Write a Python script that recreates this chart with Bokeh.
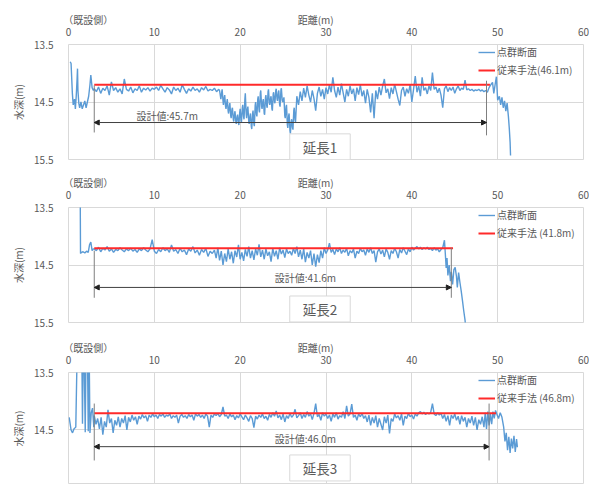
from bokeh.plotting import figure
from bokeh.models import (Range1d, FixedTicker, Label, Arrow, NormalHead, Legend, LegendItem,
                          LinearAxis)
from bokeh.layouts import column
from bokeh.embed import file_html
from bokeh.resources import INLINE

# ---------------- data ----------------
x_ticks = [0, 10, 20, 30, 40, 50, 60]
y_ticks = [13.5, 14.5, 15.5]
panel_names = ["延長1", "延長2", "延長3"]
start_offset = 3.0
design_len = [45.7, 41.6, 46.0]
conv_len = [46.1, 41.8, 46.8]
conv_depth = [14.20, 14.21, 14.21]
conv_labels = ["従来手法(46.1m)", "従来手法 (41.8m)", "従来手法 (46.8m)"]
design_labels = ["設計値:45.7m", "設計値:41.6m", "設計値:46.0m"]
x_title = "距離(m)"
x_origin_note = "（既設側）"
y_title = "水深(m)"

profile1 = [
    (0.2, 13.80), (0.3, 13.83), (0.45, 14.35), (0.55, 14.55), (0.7, 14.45), (0.8, 14.62), (0.9, 14.40),
    (1.0, 14.10), (1.05, 13.92), (1.1, 14.30), (1.2, 14.52), (1.3, 14.60), (1.45, 14.50), (1.6, 14.62),
    (1.75, 14.55), (1.9, 14.48), (2.05, 14.60), (2.2, 14.50), (2.35, 14.40), (2.5, 14.20), (2.6, 14.03),
    (2.75, 14.25), (2.9, 14.30),
    (3.0, 14.27), (3.25, 14.32), (3.5, 14.24), (3.75, 14.35), (4.0, 14.26), (4.25, 14.30), (4.5, 14.22),
    (4.75, 14.38), (5.0, 14.15), (5.25, 14.30), (5.5, 14.25), (5.75, 14.33), (6.0, 14.27), (6.25, 14.36),
    (6.5, 14.10), (6.75, 14.28), (7.0, 14.31), (7.25, 14.24), (7.5, 14.34), (7.75, 14.27), (8.0, 14.30),
    (8.25, 14.22), (8.5, 14.33), (8.75, 14.26), (9.0, 14.29), (9.25, 14.25), (9.5, 14.31), (9.75, 14.26),
    (10.0, 14.28), (10.25, 14.24), (10.5, 14.30), (10.75, 14.21), (11.0, 14.27), (11.25, 14.33), (11.5, 14.25),
    (11.75, 14.29), (12.0, 14.36), (12.25, 14.24), (12.5, 14.30), (12.75, 14.26), (13.0, 14.33), (13.25, 14.20),
    (13.5, 14.28), (13.75, 14.35), (14.0, 14.27), (14.25, 14.31), (14.5, 14.24), (14.75, 14.30), (15.0, 14.27),
    (15.25, 14.33), (15.5, 14.25), (15.75, 14.29), (16.0, 14.23), (16.25, 14.31), (16.5, 14.28), (16.75, 14.30),
    (17.0, 14.26), (17.25, 14.32), (17.5, 14.28),
    (17.6, 14.30), (17.7, 14.40), (17.75, 14.45), (17.85, 14.33), (17.9, 14.28), (18.0, 14.48), (18.05, 14.55),
    (18.15, 14.42), (18.2, 14.38), (18.3, 14.58), (18.35, 14.62), (18.45, 14.50), (18.5, 14.45), (18.6, 14.66),
    (18.65, 14.70), (18.75, 14.56), (18.8, 14.52), (18.9, 14.74), (18.95, 14.78), (19.05, 14.62), (19.1, 14.60),
    (19.2, 14.80), (19.25, 14.84), (19.35, 14.70), (19.4, 14.66), (19.5, 14.85), (19.55, 14.88), (19.65, 14.75),
    (19.7, 14.72), (19.8, 14.86), (19.85, 14.90), (19.95, 14.68), (20.0, 14.62), (20.1, 14.82), (20.15, 14.85),
    (20.25, 14.60), (20.3, 14.55), (20.4, 14.76), (20.45, 14.80), (20.55, 14.45), (20.6, 14.35), (20.7, 14.70),
    (20.75, 14.78), (20.85, 14.62), (20.9, 14.58), (21.0, 14.84), (21.05, 14.88), (21.15, 14.74), (21.2, 14.70),
    (21.3, 14.93), (21.35, 14.97), (21.45, 14.70), (21.5, 14.65), (21.6, 14.88), (21.65, 14.92), (21.75, 14.56),
    (21.8, 14.50), (21.9, 14.72), (21.95, 14.75), (22.05, 14.45), (22.1, 14.40), (22.2, 14.64), (22.25, 14.68),
    (22.35, 14.34), (22.4, 14.30), (22.5, 14.58), (22.55, 14.62), (22.65, 14.48), (22.7, 14.45), (22.8, 14.70),
    (22.85, 14.72), (22.95, 14.42), (23.0, 14.38), (23.1, 14.57), (23.15, 14.60), (23.25, 14.32), (23.3, 14.28),
    (23.4, 14.52), (23.45, 14.55), (23.55, 14.43), (23.6, 14.40), (23.7, 14.62), (23.75, 14.65), (23.85, 14.36),
    (23.9, 14.33), (24.0, 14.50), (24.05, 14.52), (24.15, 14.30), (24.2, 14.27), (24.3, 14.45), (24.35, 14.48),
    (24.45, 14.33), (24.5, 14.30), (24.6, 14.55), (24.65, 14.58), (24.75, 14.29), (24.8, 14.26), (24.9, 14.47),
    (24.95, 14.50), (25.05, 14.45), (25.1, 14.42), (25.2, 14.74), (25.25, 14.78), (25.35, 14.58), (25.4, 14.55),
    (25.5, 14.90), (25.55, 14.95), (25.65, 14.74), (25.7, 14.70), (25.8, 15.00), (25.85, 15.05), (25.95, 14.84),
    (26.0, 14.80), (26.1, 14.95), (26.15, 14.98), (26.25, 14.64), (26.3, 14.60), (26.4, 14.82), (26.45, 14.85),
    (26.6, 14.40),
    (26.8, 14.55), (27.0, 14.32), (27.2, 14.48), (27.4, 14.26), (27.6, 14.42), (27.8, 14.22), (28.0, 14.38),
    (28.2, 14.50), (28.4, 14.30), (28.6, 14.44), (28.8, 14.65), (29.0, 14.35), (29.2, 14.24), (29.4, 14.40),
    (29.6, 14.28), (29.8, 14.45), (30.0, 14.25), (30.2, 14.36), (30.4, 14.20), (30.6, 14.33), (30.8, 14.07),
    (31.0, 14.30), (31.2, 14.42), (31.4, 14.24), (31.6, 14.38), (31.8, 14.18), (32.0, 14.34), (32.2, 14.50),
    (32.4, 14.28), (32.6, 14.40), (32.8, 14.22), (33.0, 14.36), (33.2, 14.27), (33.4, 14.48), (33.6, 14.25),
    (33.8, 14.37), (34.0, 14.20), (34.2, 14.40), (34.4, 14.30), (34.6, 14.52), (34.8, 14.28), (35.0, 14.42),
    (35.2, 14.68), (35.4, 14.35), (35.6, 14.78), (35.8, 14.30), (36.0, 14.45), (36.2, 14.24), (36.4, 14.38),
    (36.6, 14.22), (36.8, 14.10), (37.0, 14.34), (37.2, 14.27), (37.4, 14.44), (37.6, 14.25), (37.8, 14.36),
    (38.0, 14.19), (38.2, 14.32), (38.4, 14.45), (38.6, 14.56), (38.8, 14.30), (39.0, 14.24), (39.2, 14.40),
    (39.4, 14.27), (39.6, 14.35), (39.8, 14.20), (40.0, 14.50), (40.2, 14.28), (40.4, 14.05), (40.6, 14.33),
    (40.8, 14.22), (41.0, 14.40), (41.2, 14.07), (41.4, 14.30), (41.6, 14.25), (41.8, 14.36), (42.0, 14.22),
    (42.2, 14.30), (42.4, 13.99), (42.6, 14.28), (42.8, 14.24), (43.0, 14.34), (43.2, 14.26), (43.4, 14.38),
    (43.6, 14.60), (43.8, 14.27), (44.0, 14.22), (44.2, 14.32), (44.4, 14.25), (44.6, 14.30), (44.8, 14.24),
    (45.0, 14.35), (45.2, 14.27), (45.4, 14.22), (45.6, 14.30), (45.8, 14.26), (46.0, 14.28), (46.2, 14.12),
    (46.4, 14.29), (46.6, 14.27), (46.8, 14.30), (47.0, 14.28), (47.2, 14.31), (47.4, 14.29), (47.6, 14.30),
    (47.8, 14.28), (48.0, 14.31), (48.2, 14.29), (48.4, 14.32), (48.6, 14.30), (48.8, 14.33), (49.0, 14.25),
    (49.2, 14.20), (49.4, 14.16), (49.55, 14.35), (49.7, 14.20), (49.85, 14.06), (50.0, 14.47), (50.2, 14.40),
    (50.35, 14.55), (50.5, 14.42), (50.65, 14.60), (50.8, 14.48), (50.95, 14.66), (51.1, 14.52), (51.25, 14.75),
    (51.35, 14.95), (51.45, 15.20), (51.5, 15.43),
]

profile2 = [
    (1.35, 12.80), (1.4, 14.30), (1.5, 14.28), (1.7, 14.27), (1.9, 14.29), (2.1, 14.26), (2.3, 14.28),
    (2.45, 14.15), (2.6, 14.10), (2.75, 14.25), (2.9, 14.22),
    (3.0, 14.22), (3.25, 14.25), (3.5, 14.19), (3.75, 14.27), (4.0, 14.21), (4.25, 14.24), (4.5, 14.18),
    (4.75, 14.26), (5.0, 14.22), (5.25, 14.28), (5.5, 14.23), (5.75, 14.25), (6.0, 14.20), (6.25, 14.24),
    (6.5, 14.27), (6.75, 14.22), (7.0, 14.25), (7.25, 14.21), (7.5, 14.26), (7.75, 14.23), (8.0, 14.28),
    (8.25, 14.22), (8.5, 14.25), (8.75, 14.20), (9.0, 14.24), (9.25, 14.27), (9.5, 14.22), (9.75, 14.06),
    (10.0, 14.26), (10.25, 14.30), (10.5, 14.23), (10.75, 14.27), (11.0, 14.20), (11.25, 14.25), (11.5, 14.22),
    (11.75, 14.28), (12.0, 14.15), (12.25, 14.26), (12.5, 14.23), (12.75, 14.30), (13.0, 14.21), (13.25, 14.27),
    (13.5, 14.24), (13.75, 14.32), (14.0, 14.22), (14.25, 14.26), (14.5, 14.18), (14.75, 14.29), (15.0, 14.24),
    (15.25, 14.33), (15.5, 14.23), (15.75, 14.28), (16.0, 14.21), (16.25, 14.35), (16.5, 14.26), (16.75, 14.30),
    (17.0, 14.24), (17.2, 14.38), (17.4, 14.20), (17.6, 14.42), (17.8, 14.26), (18.0, 14.50), (18.2, 14.30),
    (18.4, 14.44), (18.6, 14.22), (18.8, 14.40), (19.0, 14.27), (19.2, 14.47), (19.4, 14.25), (19.6, 14.36),
    (19.8, 14.15), (20.0, 14.40), (20.2, 14.28), (20.4, 14.43), (20.6, 14.23), (20.8, 14.35), (21.0, 14.18),
    (21.2, 14.38), (21.4, 14.25), (21.6, 14.41), (21.8, 14.22), (22.0, 14.33), (22.2, 14.14), (22.4, 14.36),
    (22.6, 14.24), (22.8, 14.40), (23.0, 14.22), (23.2, 14.34), (23.4, 14.27), (23.6, 14.44), (23.8, 14.21),
    (24.0, 14.35), (24.2, 14.25), (24.4, 14.40), (24.6, 14.20), (24.8, 14.31), (25.0, 14.24), (25.2, 14.37),
    (25.4, 14.22), (25.6, 14.30),
    (25.8, 14.26), (26.0, 14.33), (26.2, 14.21), (26.4, 14.30), (26.6, 14.18), (26.8, 14.36), (27.0, 14.24),
    (27.2, 14.40), (27.4, 14.22), (27.6, 14.45), (27.8, 14.28), (28.0, 14.38), (28.2, 14.25), (28.4, 14.50),
    (28.6, 14.30), (28.8, 14.53), (29.0, 14.32), (29.2, 14.46), (29.4, 14.25), (29.6, 14.38), (29.8, 14.20),
    (30.0, 14.30), (30.2, 14.24), (30.4, 14.12), (30.6, 14.28), (30.8, 14.23), (31.0, 14.32), (31.2, 14.22),
    (31.4, 14.27), (31.6, 14.20), (31.8, 14.30), (32.0, 14.24), (32.2, 14.28), (32.4, 14.21), (32.6, 14.34),
    (32.8, 14.25), (33.0, 14.29), (33.2, 14.22), (33.4, 14.38), (33.6, 14.26), (33.8, 14.30), (34.0, 14.21),
    (34.2, 14.27), (34.4, 14.24), (34.6, 14.33), (34.8, 14.22), (35.0, 14.28), (35.2, 14.20), (35.4, 14.30),
    (35.6, 14.25), (35.8, 14.45), (36.0, 14.27), (36.2, 14.22), (36.4, 14.31), (36.6, 14.24), (36.8, 14.36),
    (37.0, 14.22), (37.2, 14.28), (37.4, 14.40), (37.6, 14.25), (37.8, 14.30), (38.0, 14.21), (38.2, 14.27),
    (38.4, 14.38), (38.6, 14.23), (38.8, 14.29), (39.0, 14.20), (39.2, 14.26), (39.4, 14.32), (39.6, 14.22),
    (39.8, 14.27), (40.0, 14.19), (40.2, 14.24), (40.4, 14.21), (40.6, 14.18), (40.8, 14.22), (41.0, 14.19),
    (41.2, 14.23), (41.4, 14.20), (41.6, 14.22), (41.8, 14.19), (42.0, 14.23), (42.2, 14.21), (42.4, 14.25),
    (42.6, 14.20), (42.8, 14.24), (43.0, 14.22), (43.2, 14.27), (43.4, 14.23), (43.6, 14.20), (43.8, 14.07),
    (43.9, 14.30), (44.0, 14.55), (44.1, 14.38), (44.2, 14.68), (44.35, 14.50), (44.5, 14.78), (44.6, 14.62),
    (44.75, 14.84), (44.9, 14.58), (45.05, 14.54), (45.2, 14.70), (45.3, 14.89), (45.45, 14.63), (45.6, 14.80),
    (45.75, 14.95), (45.9, 15.12), (46.05, 15.30), (46.2, 15.46), (46.25, 15.55),
]

profile3 = [
    (0.08, 14.28), (0.3, 14.50), (0.47, 14.55), (0.65, 14.48), (0.85, 14.45), (1.0, 13.20), (1.1, 13.00),
    (1.3, 13.00), (1.55, 13.10), (1.63, 14.39), (1.7, 13.30), (1.8, 13.00), (1.95, 14.54), (2.05, 13.00),
    (2.2, 13.00), (2.3, 14.52), (2.4, 13.00), (2.5, 14.55), (2.65, 14.20), (2.8, 14.12), (2.95, 14.45),
    (3.0, 14.25), (3.2, 14.40), (3.4, 14.30), (3.6, 14.48), (3.8, 14.28), (4.0, 14.58), (4.2, 14.35),
    (4.4, 14.45), (4.6, 14.15), (4.8, 14.38), (5.0, 14.30), (5.2, 14.55), (5.4, 14.33), (5.6, 14.42),
    (5.8, 14.27), (6.0, 14.45), (6.2, 14.30), (6.4, 14.38), (6.6, 14.25), (6.8, 14.50), (7.0, 14.28),
    (7.2, 14.36), (7.4, 14.24), (7.6, 14.33), (7.8, 14.27), (8.0, 14.40), (8.2, 14.26), (8.4, 14.31),
    (8.6, 14.23), (8.8, 14.29), (9.0, 14.25), (9.2, 14.35), (9.4, 14.24), (9.6, 14.28), (9.8, 14.22),
    (10.0, 14.27), (10.2, 14.24), (10.4, 14.30), (10.6, 14.23), (10.8, 14.26), (11.0, 14.22), (11.2, 14.28),
    (11.4, 14.24), (11.6, 14.26), (11.8, 14.22), (12.0, 14.30), (12.2, 14.25), (12.4, 14.28), (12.6, 14.24),
    (12.8, 14.38), (13.0, 14.26), (13.2, 14.23), (13.4, 14.28), (13.6, 14.25), (13.8, 14.30), (14.0, 14.23),
    (14.2, 14.27), (14.4, 14.24), (14.6, 14.33), (14.8, 14.22), (15.0, 14.26), (15.2, 14.23), (15.4, 14.28),
    (15.6, 14.24), (15.8, 14.30), (16.0, 14.22), (16.2, 14.26), (16.4, 14.45), (16.6, 14.24), (16.8, 14.28),
    (17.0, 14.22), (17.2, 14.25), (17.4, 14.21), (17.6, 14.27), (17.8, 14.23), (18.0, 14.10), (18.2, 14.26),
    (18.4, 14.24), (18.6, 14.30), (18.8, 14.22), (19.0, 14.27), (19.2, 14.24), (19.4, 14.32), (19.6, 14.25),
    (19.8, 14.29), (20.0, 14.22), (20.2, 14.27), (20.4, 14.32), (20.6, 14.24), (20.8, 14.29), (21.0, 14.35),
    (21.2, 14.25), (21.4, 14.30), (21.6, 14.46), (21.8, 14.26), (22.0, 14.31), (22.2, 14.24), (22.4, 14.28),
    (22.6, 14.22), (22.8, 14.30), (23.0, 14.26), (23.2, 14.33), (23.4, 14.23), (23.6, 14.28), (23.8, 14.20),
    (24.0, 14.26), (24.2, 14.17), (24.4, 14.29), (24.6, 14.24), (24.8, 14.32), (25.0, 14.22), (25.2, 14.36),
    (25.4, 14.25), (25.6, 14.30), (25.8, 14.21), (26.0, 14.28), (26.2, 14.24), (26.4, 14.14), (26.6, 14.29),
    (26.8, 14.25), (27.0, 14.20), (27.2, 14.30), (27.4, 14.23), (27.6, 14.28), (27.8, 14.18), (28.0, 14.26),
    (28.2, 14.22), (28.4, 14.32), (28.6, 14.21), (28.8, 14.04), (29.0, 14.27), (29.2, 14.23), (29.4, 14.33),
    (29.6, 14.20), (29.8, 14.26), (30.0, 14.22), (30.2, 14.30), (30.4, 14.24), (30.6, 14.35), (30.8, 14.22),
    (31.0, 14.28), (31.2, 14.20), (31.4, 14.31), (31.6, 14.25), (31.8, 14.28), (32.0, 14.18), (32.2, 14.30),
    (32.4, 14.08), (32.6, 14.26), (32.8, 14.22), (33.0, 14.05), (33.2, 14.28), (33.4, 14.24), (33.6, 14.33),
    (33.8, 14.22), (34.0, 14.27), (34.2, 14.21), (34.4, 14.30), (34.6, 14.25), (34.8, 14.36), (35.0, 14.24),
    (35.2, 14.42), (35.4, 14.28), (35.6, 14.38), (35.8, 14.25), (36.0, 14.45), (36.2, 14.30), (36.4, 14.40),
    (36.6, 14.50), (36.8, 14.27), (37.0, 14.38), (37.2, 14.24), (37.4, 14.56), (37.6, 14.30), (37.8, 14.35),
    (38.0, 14.22), (38.2, 14.29), (38.4, 14.25), (38.6, 14.33), (38.8, 14.22), (39.0, 14.42), (39.2, 14.26),
    (39.4, 14.30), (39.6, 14.21), (39.8, 14.27), (40.0, 14.24), (40.2, 14.31), (40.4, 14.22), (40.6, 14.26),
    (40.8, 14.20), (41.0, 14.18), (41.2, 14.22), (41.4, 14.19), (41.6, 14.23), (41.8, 14.20), (42.0, 14.22),
    (42.2, 14.19), (42.4, 14.04), (42.6, 14.22), (42.8, 14.25), (43.0, 14.20), (43.2, 14.24), (43.4, 14.21),
    (43.6, 14.30), (43.8, 14.23), (44.0, 14.35), (44.2, 14.25), (44.4, 14.42), (44.6, 14.24), (44.8, 14.30),
    (45.0, 14.22), (45.2, 14.33), (45.4, 14.26), (45.6, 14.40), (45.8, 14.25), (46.0, 14.35), (46.2, 14.28),
    (46.4, 14.45), (46.6, 14.30), (46.8, 14.38), (47.0, 14.26), (47.2, 14.42), (47.4, 14.28), (47.6, 14.50),
    (47.8, 14.32), (48.0, 14.40), (48.2, 14.27), (48.4, 14.45), (48.55, 14.20), (48.7, 14.48), (48.85, 14.18),
    (49.0, 14.42), (49.15, 14.22), (49.3, 14.40), (49.45, 14.18), (49.6, 14.30), (49.75, 14.16), (49.9, 14.22),
    (50.1, 14.30), (50.3, 14.20), (50.5, 14.28), (50.7, 14.45), (50.85, 14.70), (51.0, 14.55), (51.15, 14.85),
    (51.3, 14.62), (51.45, 14.90), (51.6, 14.65), (51.75, 14.82), (51.9, 14.60), (52.05, 14.88), (52.2, 14.66),
    (52.3, 14.80),
]
profiles = [profile1, profile2, profile3]

# ---------------- layout / styling (not data) ----------------
FONT = "Noto Sans CJK JP"
BLUE = "#5b9bd5"
RED = "#ff2a2a"
GRID = "#d9d9d9"
TXT = "#595959"

fig_h = [165, 165, 154]
border_top = [44, 42, 42]
border_bot = [6, 8, 0]
frame_h = [115, 115, 112]
y_bottom = [15.5, 15.5, 15.448]
arrow_y = [14.857, 14.89, 14.79]
design_text_pos = [(11.5, 14.73), (27.6, 14.72), (27.6, 14.64)]
ext_left = [(14.21, 15.03), (14.25, 15.07), (14.04, 15.03)]
ext_right = [(14.13, 15.08), (14.20, 15.07), (14.04, 15.03)]
box_pos = [(29.3, 15.28), (29.3, 15.265), (29.3, 15.16)]
header_pos = {2.3: x_origin_note, 28.8: x_title}


def style_axis(ax):
    ax.axis_line_color = None
    ax.major_tick_line_color = None
    ax.minor_tick_line_color = None
    ax.major_tick_out = 0
    ax.major_tick_in = 0
    ax.major_label_text_font = FONT
    ax.major_label_text_font_size = "10px"
    ax.major_label_text_color = TXT


figs = []
for i in range(3):
    p = figure(width=589, height=fig_h[i], output_backend="svg", toolbar_location=None,
               x_range=Range1d(0, 60), y_range=Range1d(y_bottom[i], 13.5),
               x_axis_location="above",
               min_border_left=68, min_border_right=6,
               min_border_top=border_top[i], min_border_bottom=border_bot[i])
    p.outline_line_color = GRID
    p.background_fill_color = "white"
    p.border_fill_color = "white"

    p.xaxis.ticker = FixedTicker(ticks=x_ticks)
    p.yaxis.ticker = FixedTicker(ticks=y_ticks)
    p.xgrid.ticker = FixedTicker(ticks=x_ticks)
    p.ygrid.ticker = FixedTicker(ticks=y_ticks)
    p.grid.grid_line_color = GRID
    style_axis(p.xaxis[0])
    style_axis(p.yaxis[0])
    p.xaxis.major_label_standoff = 9
    p.yaxis.major_label_standoff = 15
    p.yaxis.axis_label = y_title
    p.yaxis.axis_label_text_font = FONT
    p.yaxis.axis_label_text_font_size = "10px"
    p.yaxis.axis_label_text_font_style = "normal"
    p.yaxis.axis_label_text_color = TXT
    p.yaxis.axis_label_standoff = 5

    # header row above the tick labels: origin note and axis title
    hdr = LinearAxis(ticker=FixedTicker(ticks=list(header_pos.keys())),
                     major_label_overrides=header_pos)
    style_axis(hdr)
    hdr.major_label_standoff = -2
    p.add_layout(hdr, "above")

    prof = profiles[i]
    xs = [a for a, b in prof]
    ds = [b for a, b in prof]
    r_blue = p.line(xs, ds, line_color=BLUE, line_width=1.4)
    r_red = p.line([start_offset, start_offset + conv_len[i]], [conv_depth[i], conv_depth[i]],
                   line_color=RED, line_width=2)

    # dimension (extension) lines and arrow
    x_end = start_offset + design_len[i]
    p.segment(x0=[start_offset, x_end], y0=[ext_left[i][0], ext_right[i][0]],
              x1=[start_offset, x_end], y1=[ext_left[i][1], ext_right[i][1]],
              line_color="#7f7f7f", line_width=1)
    p.add_layout(Arrow(x_start=start_offset, x_end=x_end, y_start=arrow_y[i], y_end=arrow_y[i],
                       line_color="#404040", line_width=1,
                       start=NormalHead(size=5, fill_color="#202020", line_color="#202020"),
                       end=NormalHead(size=5, fill_color="#202020", line_color="#202020")))
    p.add_layout(Label(x=design_text_pos[i][0], y=design_text_pos[i][1], text=design_labels[i],
                       text_align="center", text_baseline="middle", text_font=FONT,
                       text_font_size="10px", text_color=TXT))

    p.add_layout(Label(x=box_pos[i][0], y=box_pos[i][1], text=panel_names[i],
                       text_align="center", text_baseline="middle", text_font=FONT,
                       text_font_size="13.5px", text_color=TXT,
                       background_fill_color="white", border_line_color=GRID,
                       padding=dict(left=13, right=13, top=3, bottom=3)))

    legend = Legend(items=[LegendItem(label="点群断面", renderers=[r_blue]),
                           LegendItem(label=conv_labels[i], renderers=[r_red])],
                    location=(410, frame_h[i] - 33), margin=0, padding=1, spacing=3,
                    glyph_width=17, glyph_height=10, label_height=12, label_standoff=2,
                    label_text_font=FONT, label_text_font_size="10px", label_text_color=TXT,
                    background_fill_alpha=0, border_line_color=None)
    p.add_layout(legend)
    figs.append(p)

layout = column(*figs, spacing=0)
open("out.html", "w").write(file_html(layout, INLINE))
